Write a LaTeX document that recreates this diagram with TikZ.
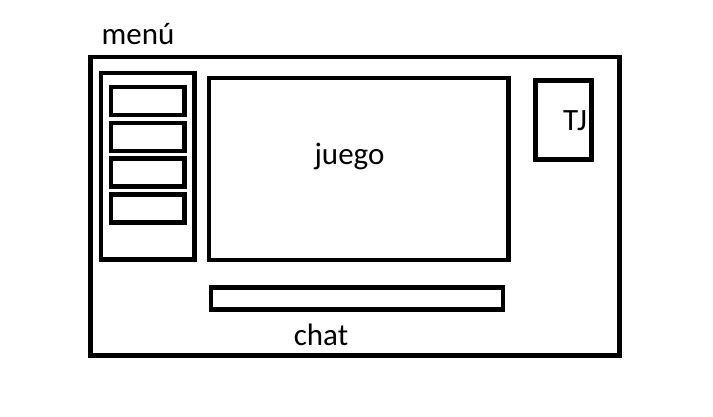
\documentclass[tikz,border=0pt]{standalone}
\usepackage{fontspec}
\setmainfont{Carlito}
\begin{document}
\begin{tikzpicture}[x=1pt, y=-1pt, box/.style={draw, line width=4.5pt, rectangle, inner sep=0pt}, label/.style={font=\fontsize{31}{36}\selectfont, inner sep=0pt, anchor=base}]
       \useasboundingbox (0, 0) rectangle (713, 417);
       \node[box, minimum width=529pt, minimum height=298.5pt] (screen) at (355, 206.25) {};
       \node[box, minimum width=93.5pt, minimum height=186.5pt] (menu) at (147.75, 166.25) {};
       \node[box, minimum width=299.5pt, minimum height=182pt] (game) at (358.75, 169) {};
       \node[box, minimum width=56pt, minimum height=79pt] (tj) at (563.5, 120) {};
       \node[box, minimum width=292pt, minimum height=22pt] (chat) at (357, 298.5) {};
       
       \foreach \i/\y in {1/101, 2/137, 3/172.5, 4/208.5}{ \node[box, minimum width=73.5pt, minimum height=28pt] (item\i) at (147.75, \y) {}; }
       
       \node[label] (menulabel) at (138, 45) {menú};
       \node[label] (gamelabel) at (349.5, 165) {juego};
       \node[label] (tjlabel) at (575, 131) {TJ};
       \node[label] (chatlabel) at (321, 345) {chat};
     \end{tikzpicture}
\end{document}
